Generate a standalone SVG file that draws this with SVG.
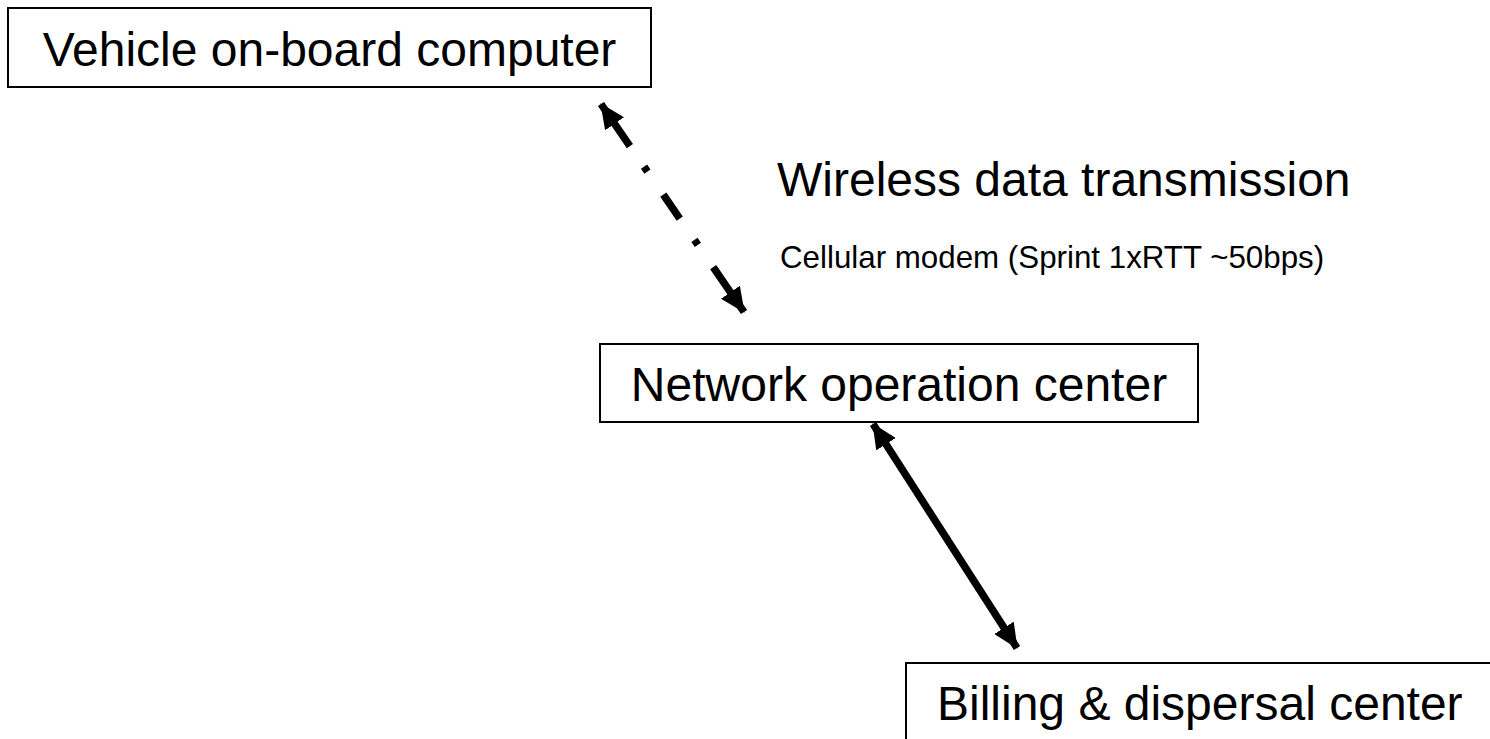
<svg xmlns="http://www.w3.org/2000/svg" width="1490" height="739" viewBox="0 0 1490 739">
<style>
.box{fill:#fff;stroke:#000;stroke-width:2}
.lbl{font-family:"Liberation Sans",Arial,sans-serif;fill:#000}
.big{font-size:48px}
.small{font-size:31.3px}
.conn{fill:none;stroke:#000;stroke-width:7.5;stroke-linecap:butt}
</style>
<defs>
<marker id="ah" markerUnits="userSpaceOnUse" viewBox="0 0 25 23" refX="24" refY="11.5" markerWidth="25" markerHeight="23" orient="auto-start-reverse">
<path d="M0,0 L25,11.5 L0,23 Z" fill="#000"/>
</marker>
</defs>
<g id="connectors">
<path class="conn" d="M601,104 L744,312" stroke-dasharray="51 25 6 28 29 26 6 27 60" marker-start="url(#ah)" marker-end="url(#ah)"/>
<path class="conn" d="M873,424 L1017,648" marker-start="url(#ah)" marker-end="url(#ah)"/>
</g>
<g id="vehicle">
<rect class="box" x="8" y="8" width="643" height="79"/>
<text class="lbl big" x="329.5" y="66" text-anchor="middle">Vehicle on-board computer</text>
</g>
<g id="noc">
<rect class="box" x="600" y="344" width="598" height="78"/>
<text class="lbl big" x="899" y="401" text-anchor="middle">Network operation center</text>
</g>
<g id="billing">
<rect class="box" x="906" y="663" width="620" height="80"/>
<text class="lbl big" x="937" y="720">Billing &amp; dispersal center</text>
</g>
<g id="labels">
<text class="lbl big" x="777" y="196">Wireless data transmission</text>
<text class="lbl small" x="780" y="268">Cellular modem (Sprint 1xRTT ~50bps)</text>
</g>
</svg>
